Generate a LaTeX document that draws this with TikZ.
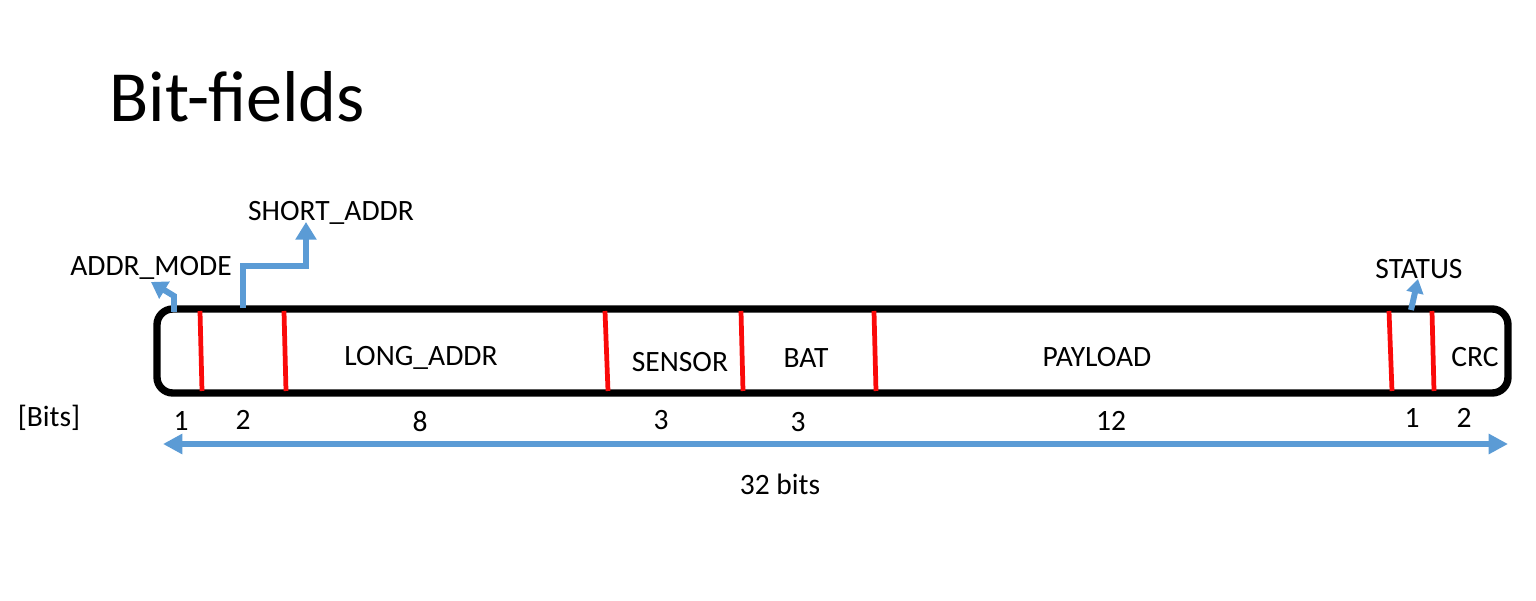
\documentclass[tikz,border=0pt]{standalone}
\usepackage{fontspec}
\setmainfont{Carlito}
\usetikzlibrary{arrows.meta}
\definecolor{fieldblue}{RGB}{91,155,213}
\definecolor{fieldred}{RGB}{250,10,10}

\begin{document}
\begin{tikzpicture}[x=0.02cm, y=-0.02cm, every node/.style={inner sep=0pt, font=\fontsize{16.8}{20}\selectfont},
        sep/.style={line width=2.7pt, fieldred},
        pointer/.style={line width=3.4pt, fieldblue, -{Triangle[length=10pt, width=11.5pt]}}]
            \useasboundingbox (0,0) rectangle (1536,601);
            \node[anchor=base west, font=\fontsize{41}{48}\selectfont] (title) at (109,122) {Bit-fields};
            % frame
            \draw[line width=4.2pt, rounded corners=9pt] (157,309) rectangle (1508,393);
            \draw[sep] (200,311) -- (202,391);
            \draw[sep] (284,311) -- (286,391);
            \draw[sep] (605,311) -- (608,391);
            \draw[sep] (741,311) -- (743,391);
            \draw[sep] (874,311) -- (876,391);
            \draw[sep] (1389,311) -- (1392,391);
            \draw[sep] (1432,311) -- (1434,391);
            % field names
            \node (long) at (421,358) {LONG\_ADDR};
            \node (sensor) at (680,362) {SENSOR};
            \node (bat) at (806,358) {BAT};
            \node (payload) at (1097,357) {PAYLOAD};
            \node (crc) at (1475,357) {CRC};
            \node (mode) at (151,268) {ADDR\_MODE};
            \node (short) at (331,213) {SHORT\_ADDR};
            \node (status) at (1419,269) {STATUS};
            % widths
            \node (bits) at (49,418) {[Bits]};
            \node (w0) at (181,421) {1};
            \node (w1) at (243,420) {2};
            \node (w2) at (420,422) {8};
            \node (w3) at (661,420) {3};
            \node (w4) at (798,422) {3};
            \node (w5) at (1111,421) {12};
            \node (w6) at (1412,418) {1};
            \node (w7) at (1464,418) {2};
            \node (total) at (780,484) {32 bits};
            % pointers
            \coordinate (c0) at (174,312);
            \coordinate (c1) at (243,308);
            \coordinate (c2) at (1411,310);
            \coordinate (t0) at (151,282);
            \coordinate (t1) at (306,222);
            \coordinate (t2) at (1418,279);
            \draw[pointer, -{Triangle[length=9pt, width=11pt]}] (c0) -- (174,296) -- (t0);
            \draw[pointer] (c1) -- (243,266) -- (306,266) -- (t1);
            \draw[pointer, -{Triangle[length=8pt, width=9.5pt]}] (c2) -- (t2);
            \coordinate (a0) at (163,444);
            \coordinate (a1) at (1508,444);
            \draw[line width=3pt, fieldblue, {Triangle[length=11pt, width=11pt]}-{Triangle[length=11pt, width=11pt]}] (a0) -- (a1);
        \end{tikzpicture}
\end{document}
